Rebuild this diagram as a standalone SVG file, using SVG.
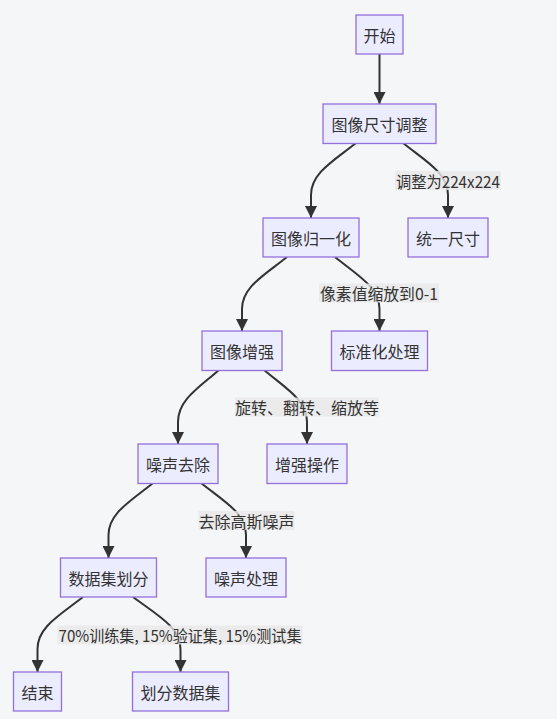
<svg xmlns="http://www.w3.org/2000/svg" width="557" height="719" viewBox="0 0 557 719">
<style>
  .bg { fill: #F5F6F8; }
  .node rect { fill: #ECECFF; stroke: #9370DB; stroke-width: 1.3; }
  .node text, .elabel text { font-family: "Noto Sans CJK SC", "Noto Sans", sans-serif; font-size: 16px; fill: #333333; text-anchor: middle; dominant-baseline: central; }
  .edge { fill: none; stroke: #333333; stroke-width: 2; marker-end: url(#arrow); }
  .elabel rect { fill: #e8e8e8; opacity: 0.8; }
</style>
<defs>
  <marker id="arrow" markerUnits="userSpaceOnUse" viewBox="0 0 12 12" refX="12" refY="6" markerWidth="12" markerHeight="12" orient="auto">
    <path d="M0,0 L12,6 L0,12 z" fill="#333333"/>
  </marker>
</defs>
<rect class="bg" x="0" y="0" width="557" height="719"/>

<g id="connectors">
  <path class="edge" d="M379.5,54 L379.5,104"/>
  <path class="edge" d="M356,143 C333.5,161 311,173 311,195 L311,218"/>
  <path class="edge" d="M403,143 C425.5,161 448,173 448,195 L448,218"/>
  <path class="edge" d="M287,257 C264.5,275 242,287 242,309 L242,331"/>
  <path class="edge" d="M335,257 C357,275 379.5,287 379.5,309 L379.5,331"/>
  <path class="edge" d="M219,370 C198.5,388 178,400 178,422 L178,444"/>
  <path class="edge" d="M264,370 C285.5,388 307,400 307,422 L307,444"/>
  <path class="edge" d="M153,483 C131,501 108.5,513 108.5,535 L108.5,558"/>
  <path class="edge" d="M201,483 C223.5,501 246,513 246,535 L246,558"/>
  <path class="edge" d="M83,597 C60,615 37.5,627 37.5,649 L37.5,672"/>
  <path class="edge" d="M133,597 C157,615 180.5,627 180.5,649 L180.5,672"/>
  <g class="elabel">
    <rect x="395" y="171" width="106" height="19"/>
    <text x="448" y="180.5" textLength="104" lengthAdjust="spacingAndGlyphs">调整为224x224</text>
  </g>
  <g class="elabel">
    <rect x="319" y="283.5" width="120" height="19"/>
    <text x="379" y="293" textLength="118" lengthAdjust="spacingAndGlyphs">像素值缩放到0-1</text>
  </g>
  <g class="elabel">
    <rect x="235" y="397.5" width="144" height="19"/>
    <text x="307" y="407">旋转、翻转、缩放等</text>
  </g>
  <g class="elabel">
    <rect x="198.5" y="511" width="96" height="19"/>
    <text x="246.5" y="520.5">去除高斯噪声</text>
  </g>
  <g class="elabel">
    <rect x="57.5" y="625.5" width="245" height="19"/>
    <text x="180" y="635" textLength="243" lengthAdjust="spacingAndGlyphs">70%训练集, 15%验证集, 15%测试集</text>
  </g>
</g>

<g id="start" class="node"><rect x="356" y="15" width="47" height="39"/><text x="379.5" y="34.5">开始</text></g>
<g id="resize" class="node"><rect x="323" y="104" width="113" height="39.5"/><text x="379.5" y="123.8">图像尺寸调整</text></g>
<g id="normalize" class="node"><rect x="263" y="218" width="96" height="39"/><text x="311" y="237.5">图像归一化</text></g>
<g id="unify" class="node"><rect x="408" y="218" width="80" height="39"/><text x="448" y="237.5">统一尺寸</text></g>
<g id="augment" class="node"><rect x="202" y="331" width="80" height="39.5"/><text x="242" y="350.8">图像增强</text></g>
<g id="standardize" class="node"><rect x="331.5" y="331" width="96" height="39.5"/><text x="379.5" y="350.8">标准化处理</text></g>
<g id="denoise" class="node"><rect x="138" y="444" width="80" height="39.5"/><text x="178" y="463.8">噪声去除</text></g>
<g id="augop" class="node"><rect x="267" y="444" width="80" height="39.5"/><text x="307" y="463.8">增强操作</text></g>
<g id="split" class="node"><rect x="60.5" y="558" width="96" height="39"/><text x="108.5" y="577.5">数据集划分</text></g>
<g id="noiseproc" class="node"><rect x="206" y="558" width="80" height="39"/><text x="246" y="577.5">噪声处理</text></g>
<g id="end" class="node"><rect x="13.5" y="672" width="48" height="39"/><text x="37.5" y="691.5">结束</text></g>
<g id="splitdata" class="node"><rect x="132.5" y="672" width="96" height="39"/><text x="180.5" y="691.5">划分数据集</text></g>
</svg>
